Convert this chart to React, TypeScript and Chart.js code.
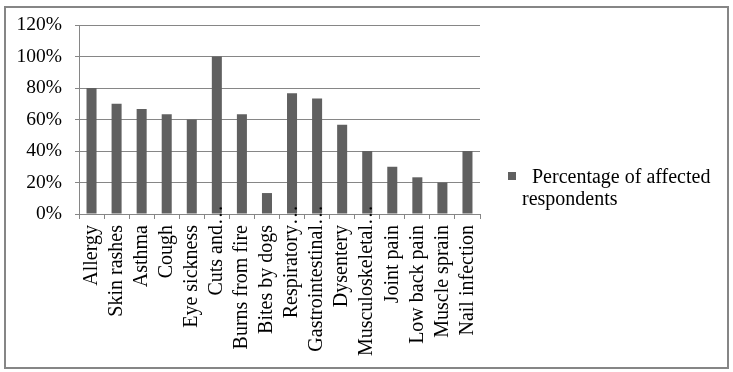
import React, { useEffect, useRef } from "react";
import { Chart, registerables } from "chart.js";

Chart.register(...registerables);

const categories = [
  "Allergy",
  "Skin rashes",
  "Asthma",
  "Cough",
  "Eye sickness",
  "Cuts and…",
  "Burns from fire",
  "Bites by dogs",
  "Respiratory…",
  "Gastrointestinal…",
  "Dysentery",
  "Musculoskeletal…",
  "Joint pain",
  "Low back pain",
  "Muscle sprain",
  "Nail infection",
];

const percentAffected = [80, 70, 66.7, 63.3, 60, 100, 63.3, 13.3, 76.7, 73.3, 56.7, 40, 30, 23.3, 20, 40];

const seriesLabel = "Percentage of affected respondents";
const legendLines = ["Percentage of affected", "respondents"];

const FONT = "'Liberation Serif', 'Times New Roman', serif";
const GRID = "#868686";
const BAR = "#606060";
const ELL = "…";
const X_TICK_PAD = 6;
const X_TICK_LEN = 5;

const framePlugin = {
  id: "frameAndLegend",
  afterDraw(chart: any) {
    const ctx = chart.ctx;
    ctx.save();
    ctx.strokeStyle = GRID;
    ctx.lineWidth = 2;
    ctx.strokeRect(5, 7, 723, 361);
    // ellipsis marks of truncated category labels (drawn next to the axis as Excel does)
    const xs = chart.scales.x;
    ctx.fillStyle = "#000";
    ctx.font = `20px ${FONT}`;
    categories.forEach((c, i) => {
      if (c.endsWith(ELL)) {
        const x = xs.getPixelForTick(i);
        const y = xs.top + X_TICK_LEN + X_TICK_PAD;
        ctx.save();
        ctx.translate(x, y);
        ctx.rotate(-Math.PI / 2);
        ctx.textAlign = "left";
        ctx.textBaseline = "middle";
        ctx.fillText(ELL, 0, 0);
        ctx.restore();
      }
    });
    // legend
    ctx.fillStyle = BAR;
    ctx.fillRect(508, 172, 8, 8);
    ctx.fillStyle = "#000";
    ctx.font = `20px ${FONT}`;
    ctx.textBaseline = "alphabetic";
    ctx.textAlign = "left";
    ctx.fillText(legendLines[0], 532, 183);
    ctx.fillText(legendLines[1], 522, 205);
    ctx.restore();
  },
};

export default function App() {
  const ref = useRef<HTMLCanvasElement>(null);
  useEffect(() => {
    if (!ref.current) return;
    const chart = new Chart(ref.current, {
      type: "bar",
      data: {
        labels: categories,
        datasets: [
          {
            label: seriesLabel,
            data: percentAffected,
            backgroundColor: BAR,
            borderWidth: 0,
            barPercentage: 0.4,
            categoryPercentage: 1,
          },
        ],
      },
      plugins: [framePlugin],
      options: {
        responsive: false,
        animation: false,
        layout: { padding: { left: 0, top: 25, right: 253, bottom: 0 } },
        plugins: {
          legend: { display: false },
          tooltip: { enabled: false },
        },
        scales: {
          x: {
            afterFit: (s: any) => {
              s.height = 158;
            },
            grid: {
              display: true,
              drawOnChartArea: false,
              drawTicks: true,
              tickLength: X_TICK_LEN,
              color: GRID,
              offset: true,
            },
            border: { display: true, color: GRID, width: 1 },
            ticks: {
              autoSkip: false,
              maxRotation: 90,
              minRotation: 90,
              padding: X_TICK_PAD,
              color: "#000",
              font: { family: FONT, size: 20 },
              callback: (_v: any, i: number) => {
                const c = categories[i];
                return c.endsWith(ELL) ? c.slice(0, -ELL.length) : c;
              },
            },
          },
          y: {
            min: 0,
            max: 120,
            afterFit: (s: any) => {
              s.width = 79;
            },
            grid: {
              color: GRID,
              drawTicks: true,
              tickLength: 4,
            },
            border: { display: true, color: GRID, width: 1 },
            ticks: {
              stepSize: 20,
              padding: 13,
              color: "#000",
              font: { family: FONT, size: 19.5 },
              callback: (v: any) => `${v}%`,
            },
          },
        },
      },
    });
    return () => chart.destroy();
  }, []);
  return (
    <div style={{ position: "absolute", left: 0, top: 0, width: 733, height: 372, background: "#fff" }}>
      <canvas ref={ref} width={733} height={372} style={{ display: "block" }} />
    </div>
  );
}
